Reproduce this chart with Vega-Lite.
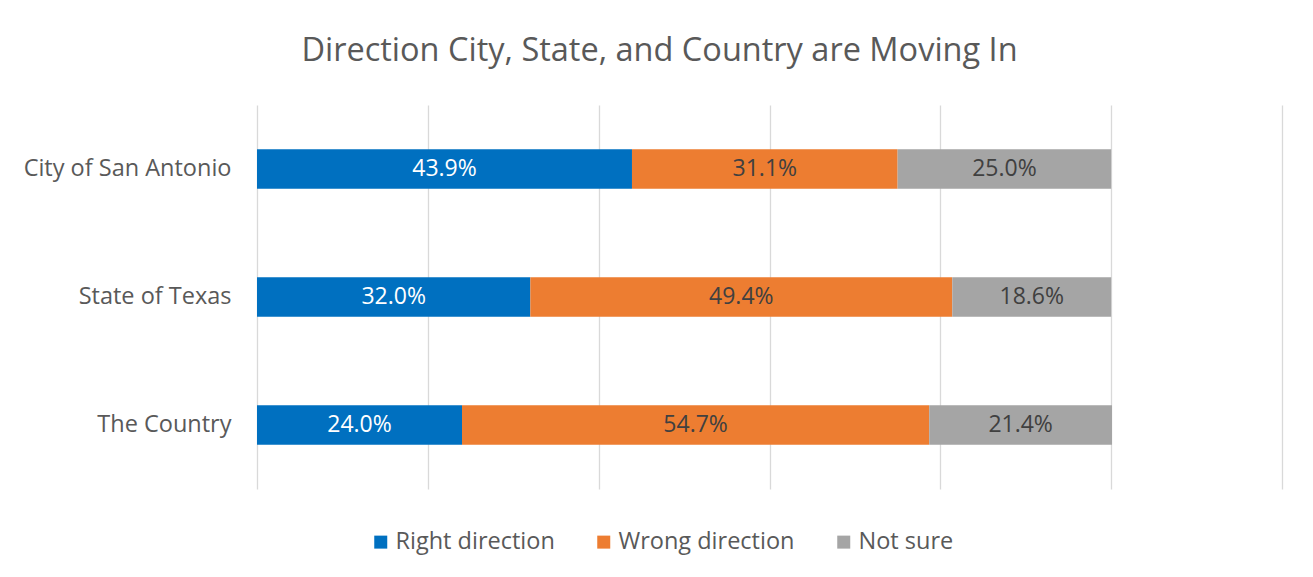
{
  "$schema": "https://vega.github.io/schema/vega-lite/v6.json",
  "width": 1025,
  "height": 384,
  "autosize": {"type": "none"},
  "padding": {"left": 257, "top": 105, "right": 31, "bottom": 88},
  "background": "white",
  "config": {"view": {"stroke": null}, "font": "Open Sans"},
  "title": {
    "text": "Direction City, State, and Country are Moving In",
    "anchor": "middle",
    "frame": "group",
    "dx": -110,
    "offset": 38,
    "fontSize": 32.5,
    "font": "Open Sans",
    "fontWeight": "normal",
    "color": "#595959"
  },
  "data": {
    "values": [
      {"place": "City of San Antonio", "cat": "Right direction", "ord": 1, "value": 0.439},
      {"place": "City of San Antonio", "cat": "Wrong direction", "ord": 2, "value": 0.311},
      {"place": "City of San Antonio", "cat": "Not sure", "ord": 3, "value": 0.25},
      {"place": "State of Texas", "cat": "Right direction", "ord": 1, "value": 0.32},
      {"place": "State of Texas", "cat": "Wrong direction", "ord": 2, "value": 0.494},
      {"place": "State of Texas", "cat": "Not sure", "ord": 3, "value": 0.186},
      {"place": "The Country", "cat": "Right direction", "ord": 1, "value": 0.24},
      {"place": "The Country", "cat": "Wrong direction", "ord": 2, "value": 0.547},
      {"place": "The Country", "cat": "Not sure", "ord": 3, "value": 0.214}
    ]
  },
  "encoding": {
    "y": {
      "field": "place",
      "type": "nominal",
      "sort": ["City of San Antonio", "State of Texas", "The Country"],
      "title": null,
      "scale": {"paddingInner": 0.69, "paddingOuter": 0.345},
      "axis": {
        "domain": false,
        "ticks": false,
        "labelPadding": 26,
        "labelFontSize": 23.5,
        "labelFont": "Open Sans",
        "labelColor": "#595959",
        "labelLimit": 400
      }
    }
  },
  "layer": [
    {
      "mark": {"type": "bar"},
      "encoding": {
        "x": {
          "field": "value",
          "type": "quantitative",
          "stack": "zero",
          "scale": {"domain": [0, 1.2], "nice": false},
          "axis": {
            "values": [0, 0.2, 0.4, 0.6, 0.8, 1.0, 1.2],
            "grid": true,
            "gridColor": "#D9D9D9",
            "gridWidth": 1.3,
            "labels": false,
            "ticks": false,
            "domain": false,
            "title": null
          }
        },
        "color": {
          "field": "cat",
          "type": "nominal",
          "scale": {
            "domain": ["Right direction", "Wrong direction", "Not sure"],
            "range": ["#0070C0", "#ED7D31", "#A5A5A5"]
          },
          "legend": {
            "orient": "none",
            "legendX": 112,
            "legendY": 425,
            "direction": "horizontal",
            "title": null,
            "symbolType": "square",
            "symbolSize": 169,
            "symbolStrokeWidth": 0,
            "labelFontSize": 23.5,
            "labelFont": "Open Sans",
            "labelColor": "#595959",
            "columnPadding": 37,
            "labelOffset": 3,
            "labelLimit": 400
          }
        },
        "order": {"field": "ord"}
      }
    },
    {
      "transform": [
        {"stack": "value", "groupby": ["place"], "sort": [{"field": "ord"}], "as": ["v0", "v1"]},
        {"calculate": "(datum.v0 + datum.v1) / 2", "as": "mid"}
      ],
      "mark": {"type": "text", "fontSize": 23, "font": "Open Sans", "baseline": "middle"},
      "encoding": {
        "x": {"field": "mid", "type": "quantitative"},
        "text": {"field": "value", "type": "quantitative", "format": ".1%"},
        "color": {
          "condition": {"test": "datum.cat === 'Right direction'", "value": "#FFFFFF"},
          "value": "#404040"
        }
      }
    }
  ]
}
